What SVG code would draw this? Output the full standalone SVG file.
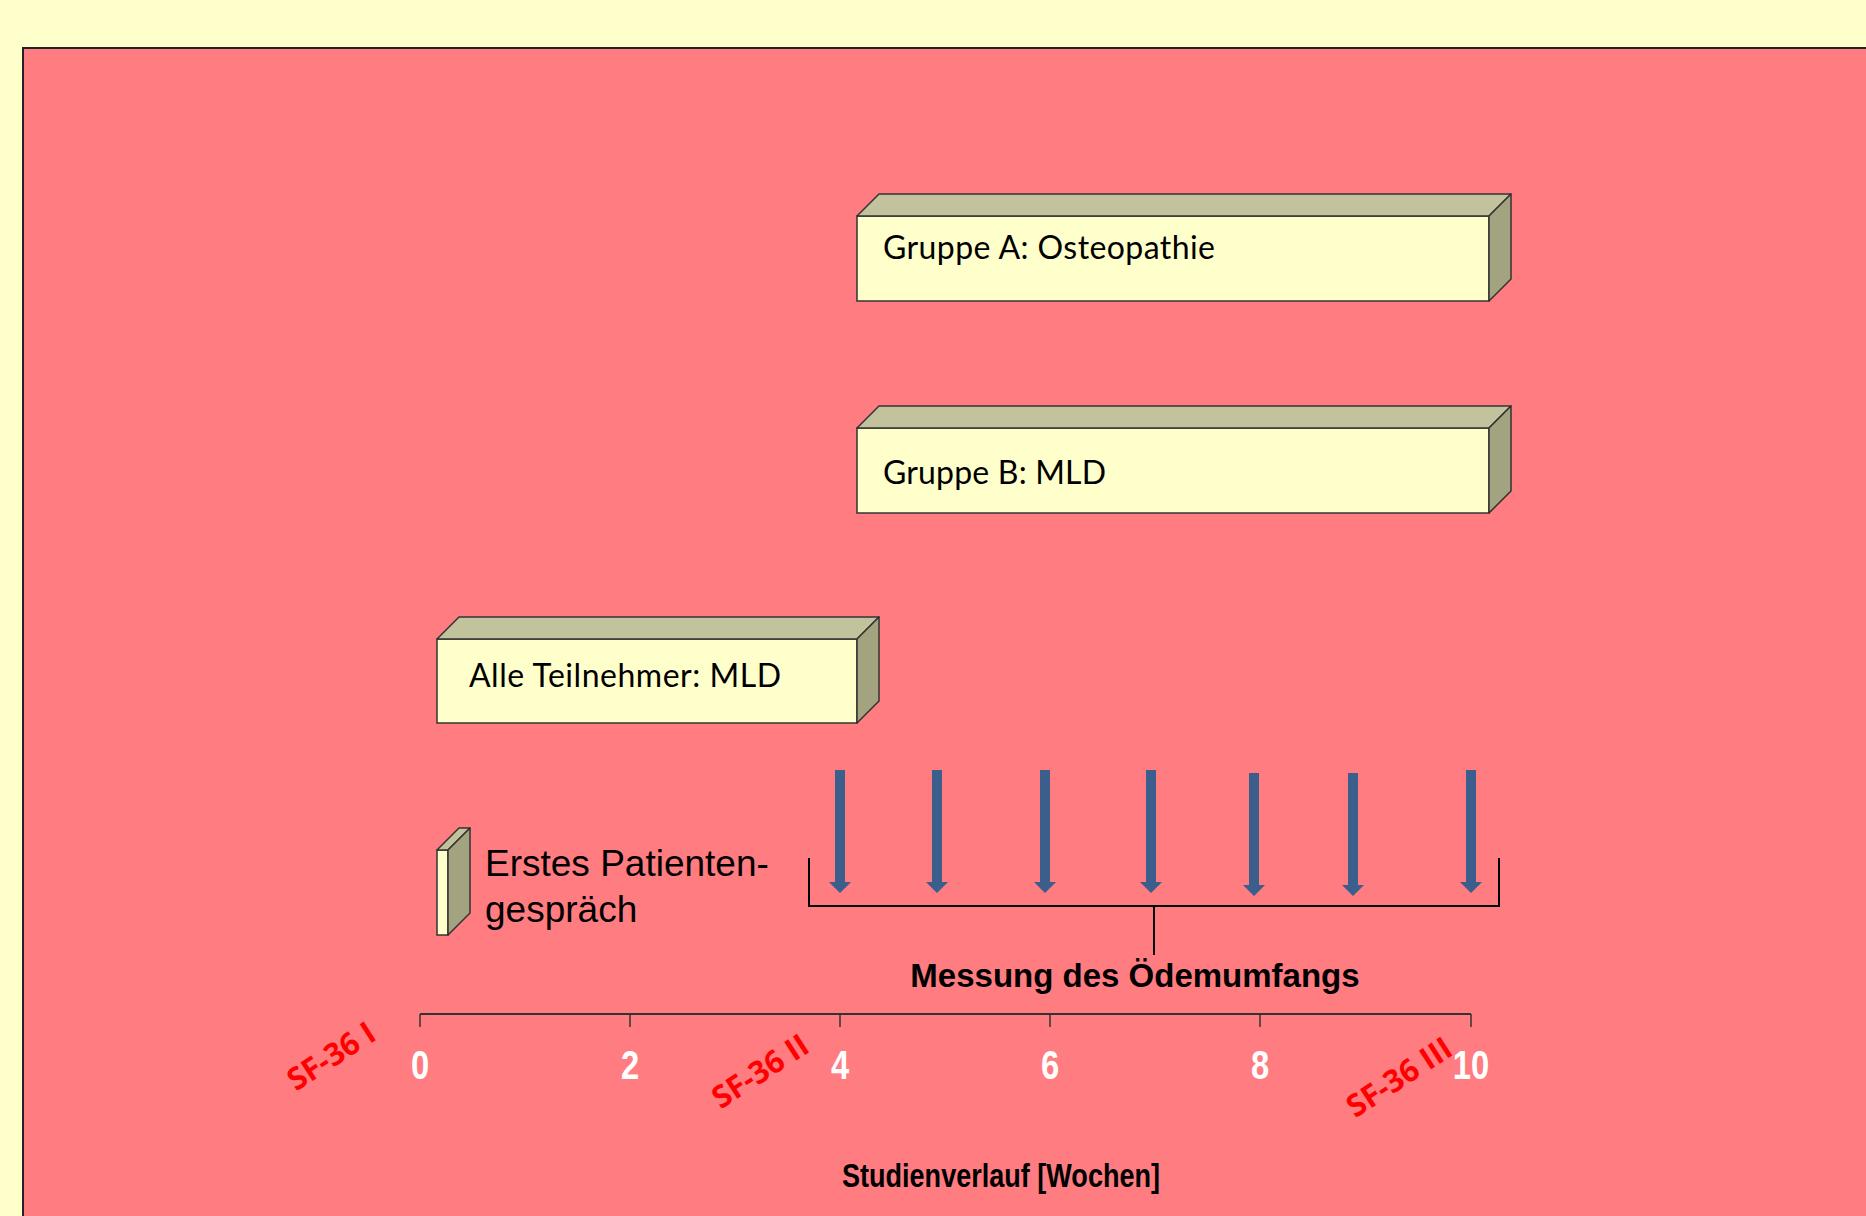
<svg xmlns="http://www.w3.org/2000/svg" xmlns:xlink="http://www.w3.org/1999/xlink" width="1866" height="1216" viewBox="0 0 1866 1216">
<style>
.front{fill:#FFFFCC;stroke:#333;stroke-width:1.5}
.top{fill:#C2C29C;stroke:#333;stroke-width:1.5;stroke-linejoin:round}
.side{fill:#A3A37F;stroke:#333;stroke-width:1.5;stroke-linejoin:round}
.boxtxt{font-family:Lato,"Open Sans","Noto Sans",sans-serif;font-size:32px;fill:#000}
.arrow{fill:#3B5E8C}
.bracket{fill:none;stroke:#000;stroke-width:2}
.axis{stroke:#333;stroke-width:2;fill:none}
.tick{stroke:#333;stroke-width:1.5}
.num{font-family:"Liberation Sans",Arial,sans-serif;font-weight:bold;font-size:40px;fill:#fff;text-anchor:middle}
.sf{font-family:"Open Sans","Noto Sans",sans-serif;font-weight:bold;font-size:31px;fill:#FF0000;text-anchor:middle}
</style>
<defs>
<path id="arr" d="M-5,0 H5 V112 H11 L0,123 L-11,112 H-5 Z"/>
</defs>
<rect x="0" y="0" width="1866" height="1216" fill="#FFFFCC"/>
<rect x="23" y="48" width="1870" height="1200" fill="#FF7C80" stroke="#222" stroke-width="2"/>

<g id="box-a">
<rect class="front" x="857" y="216" width="632" height="85"/>
<polygon class="top" points="857,216 879,194 1511,194 1489,216"/>
<polygon class="side" points="1489,216 1511,194 1511,279 1489,301"/>
<text class="boxtxt" x="883" y="259" textLength="332" lengthAdjust="spacing">Gruppe A: Osteopathie</text>
</g>
<g id="box-b">
<rect class="front" x="857" y="428" width="632" height="85"/>
<polygon class="top" points="857,428 879,406 1511,406 1489,428"/>
<polygon class="side" points="1489,428 1511,406 1511,491 1489,513"/>
<text class="boxtxt" x="883" y="484" textLength="223" lengthAdjust="spacing">Gruppe B: MLD</text>
</g>
<g id="box-c">
<rect class="front" x="437" y="639" width="420" height="84"/>
<polygon class="top" points="437,639 459,617 879,617 857,639"/>
<polygon class="side" points="857,639 879,617 879,701 857,723"/>
<text class="boxtxt" x="469" y="687" textLength="312" lengthAdjust="spacing">Alle Teilnehmer: MLD</text>
</g>
<g id="box-d">
<rect class="front" x="437" y="850" width="11" height="85"/>
<polygon class="top" points="437,850 459,828 470,828 448,850"/>
<polygon class="side" points="448,850 470,828 470,913 448,935"/>
<text font-family="'Liberation Sans',Arial,sans-serif" font-size="37" fill="#000"><tspan x="485" y="876">Erstes Patienten-</tspan><tspan x="485" y="922">gespräch</tspan></text>
</g>

<g id="connectors">
<use href="#arr" xlink:href="#arr" class="arrow" x="840" y="770"/>
<use href="#arr" xlink:href="#arr" class="arrow" x="937" y="770"/>
<use href="#arr" xlink:href="#arr" class="arrow" x="1045" y="770"/>
<use href="#arr" xlink:href="#arr" class="arrow" x="1151" y="770"/>
<use href="#arr" xlink:href="#arr" class="arrow" x="1254" y="773"/>
<use href="#arr" xlink:href="#arr" class="arrow" x="1353" y="773"/>
<use href="#arr" xlink:href="#arr" class="arrow" x="1471" y="770"/>
<polyline class="bracket" points="809,858 809,906 1499,906 1499,858"/>
<line class="bracket" x1="1154" y1="906" x2="1154" y2="955"/>
</g>
<g id="label-messung">
<text x="1135" y="987" font-family="'Liberation Sans',Arial,sans-serif" font-weight="bold" font-size="33" text-anchor="middle" fill="#000">Messung des Ödemumfangs</text>
</g>

<g id="axis">
<line class="axis" x1="420" y1="1014" x2="1471" y2="1014"/>
<line class="tick" x1="420" y1="1014" x2="420" y2="1027"/>
<line class="tick" x1="630" y1="1014" x2="630" y2="1027"/>
<line class="tick" x1="840" y1="1014" x2="840" y2="1027"/>
<line class="tick" x1="1050" y1="1014" x2="1050" y2="1027"/>
<line class="tick" x1="1260" y1="1014" x2="1260" y2="1027"/>
<line class="tick" x1="1471" y1="1014" x2="1471" y2="1027"/>
<text class="num" transform="translate(420,1079) scale(0.82,1)">0</text>
<text class="num" transform="translate(630,1079) scale(0.82,1)">2</text>
<text class="num" transform="translate(840,1079) scale(0.82,1)">4</text>
<text class="num" transform="translate(1050,1079) scale(0.82,1)">6</text>
<text class="num" transform="translate(1260,1079) scale(0.82,1)">8</text>
<text class="num" transform="translate(1471,1079) scale(0.82,1)">10</text>
<text class="sf" transform="translate(331,1056) rotate(-33)" x="0" y="11">SF-36 I</text>
<text class="sf" transform="translate(760,1071) rotate(-33)" x="0" y="11">SF-36 II</text>
<text class="sf" transform="translate(1399,1077) rotate(-33)" x="0" y="11">SF-36 III</text>
<text transform="translate(1001,1187) scale(0.82,1)" font-family="'Liberation Sans',Arial,sans-serif" font-weight="bold" font-size="33" text-anchor="middle" fill="#000">Studienverlauf [Wochen]</text>
</g>
</svg>
